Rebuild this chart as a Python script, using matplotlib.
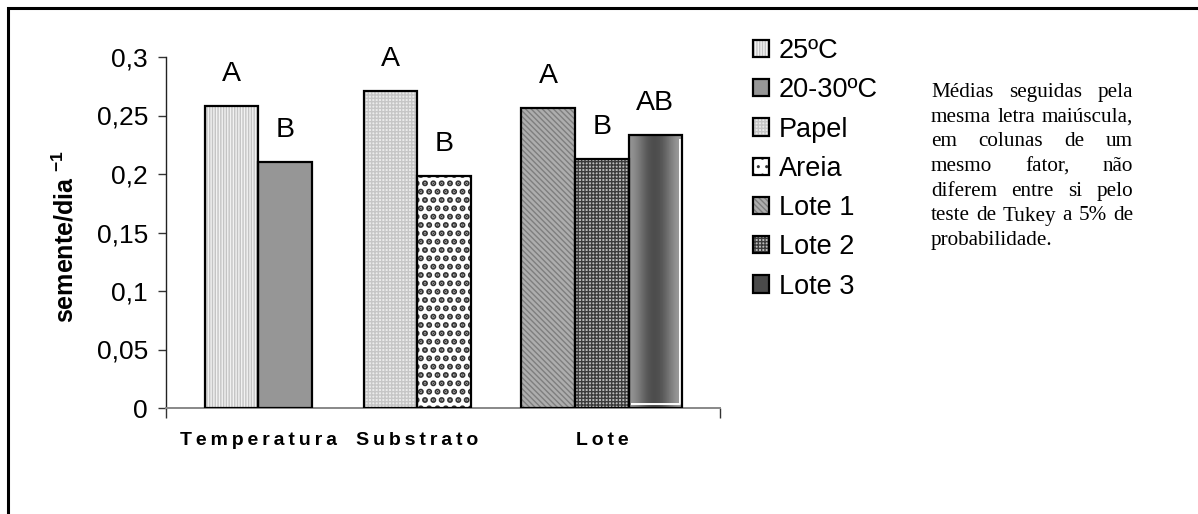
import numpy as np
import matplotlib
matplotlib.use("Agg")
from matplotlib import pyplot as plt
from matplotlib.patches import Rectangle, Patch
from matplotlib.legend_handler import HandlerTuple

plt.rcParams['font.family'] = ['Liberation Sans', 'DejaVu Sans']
plt.rcParams['mathtext.fontset'] = 'custom'
plt.rcParams['mathtext.rm'] = 'Liberation Sans'
plt.rcParams['mathtext.bf'] = 'Liberation Sans:bold'
plt.rcParams['hatch.linewidth'] = 1.0

# data
groups = ['Temperatura', 'Substrato', 'Lote']
series = ['25ºC', '20-30ºC', 'Papel', 'Areia', 'Lote 1', 'Lote 2', 'Lote 3']
series_group = [0, 0, 1, 1, 2, 2, 2]
values = [0.258, 0.210, 0.271, 0.198, 0.256, 0.213, 0.233]
letters = ['A', 'B', 'A', 'B', 'A', 'B', 'AB']
yticks = [0, 0.05, 0.1, 0.15, 0.2, 0.25, 0.3]
note_lines = ["Médias seguidas pela",
              "mesma letra maiúscula,",
              "em colunas de um",
              "mesmo fator, não",
              "diferem entre si pelo",
              "teste de Tukey a 5% de",
              "probabilidade."]

# bar looks: (face, hatch, hatch colour, hatch width)
styles = [('#f2f2f2', '||||||', '#c4c4c4', 1.0),
          ('#969696', None, '#969696', 1.0),
          ('#ececec', '+++++', '#c6c6c6', 1.0),
          ('#ffffff', '..', '#333333', 3.0),
          ('#adadad', '\\\\\\\\\\\\', '#7e7e7e', 1.0),
          ('#bdbdbd', '+++++', '#3c3c3c', 1.0),
          ('#555555', None, '#555555', 1.0)]

W, H = 1198, 514
fig = plt.figure(figsize=(W / 100, H / 100), dpi=100)
ax = fig.add_axes([166 / W, 1 - 408 / H, 554 / W, 351 / H])

centers = [0.50, 1.36, 2.36]
bw = 0.29
counts = [series_group.count(g) for g in range(len(groups))]
seen = [0] * len(groups)
handles = []
for i, v in enumerate(values):
    g = series_group[i]
    left = centers[g] - counts[g] * bw / 2 + seen[g] * bw
    seen[g] += 1
    face, hatch, hcol, hlw = styles[i]
    x = left + bw / 2
    if series[i] == 'Lote 3':
        grad = np.array([[0.58, 0.48, 0.36, 0.29, 0.31, 0.40, 0.53, 0.62]])
        ax.imshow(grad, cmap='gray', vmin=0, vmax=1, aspect='auto',
                  extent=[left, left + bw, 0, v], interpolation='bicubic', zorder=2)
        edge = ax.bar(x, v, bw, fill=False, edgecolor='black', linewidth=1.6, zorder=4)[0]
        dx, dy = 0.012, 0.003
        ax.plot([left + bw - dx, left + bw - dx, left + dx],
                [v - dy, dy, dy], color='white', lw=1.4, zorder=3,
                solid_capstyle='butt')
        handles.append((Patch(facecolor='#4a4a4a'), Patch(fill=False, edgecolor='black', lw=1.6)))
    else:
        with plt.rc_context({'hatch.linewidth': hlw}):
            fill = ax.bar(x, v, bw, color=face, hatch=hatch, edgecolor=hcol,
                          linewidth=0, zorder=2)[0]
            if hasattr(fill, 'set_hatch_linewidth'):
                fill.set_hatch_linewidth(hlw)
        edge = ax.bar(x, v, bw, fill=False, edgecolor='black', linewidth=1.6, zorder=4)[0]
        handles.append((fill, edge))
    ax.text(x, v + 0.0215, letters[i], ha='center', va='baseline', fontsize=20.5)

ax.set_xlim(0, 3)
ax.set_ylim(0, 0.3)
ax.set_yticks(yticks)
ax.set_yticklabels([('%g' % t).replace('.', ',') for t in yticks], fontsize=19)
ax.tick_params(axis='y', direction='out', length=6, width=1, color='#333333', pad=7)

thin = '\u2009'
ax.set_xticks(centers)
ax.set_xticklabels([thin.join(g) for g in groups], fontsize=14, fontweight='bold')
ax.tick_params(axis='x', length=0, pad=17.5)
ax.set_xticks([0, 3], minor=True)
ax.tick_params(axis='x', which='minor', direction='out', length=7, width=1, color='#333333')

for s in ['top', 'right']:
    ax.spines[s].set_visible(False)
ax.spines['left'].set_color('#222222')
ax.spines['bottom'].set_color('#888888')
ax.spines['left'].set_linewidth(1)
ax.spines['bottom'].set_linewidth(1.4)

fig.text(65 / W, 1 - 236 / H, r'semente/dia $^{\mathbf{-1}}$', rotation=90,
         ha='center', va='center', fontsize=18, fontweight='bold')

leg = ax.legend(handles, series, handler_map={tuple: HandlerTuple(ndivide=1)},
                loc='upper left', bbox_to_anchor=(753 / W, 1 - 38 / H),
                bbox_transform=fig.transFigure, frameon=False, fontsize=19.5,
                handlelength=0.6, handleheight=0.6, handletextpad=0.35,
                labelspacing=0.49, borderpad=0, borderaxespad=0)

# justified note on the right
renderer = fig.canvas.get_renderer()
x0, x1 = 931, 1133
base = 97
for k, line in enumerate(note_lines):
    y = 1 - (base + k * 24.7) / H
    words = line.split(' ')
    if k == len(note_lines) - 1:
        fig.text(x0 / W, y, line, family='Liberation Serif', fontsize=15.2, va='baseline')
        continue
    objs = [fig.text(0, y, w, family='Liberation Serif', fontsize=15.2, va='baseline') for w in words]
    widths = [o.get_window_extent(renderer).width for o in objs]
    gap = (x1 - x0 - sum(widths)) / (len(words) - 1)
    pos = x0
    for o, wd in zip(objs, widths):
        o.set_x(pos / W)
        pos += wd + gap

# outer frame, cut by the image edges on right and bottom
fig.add_artist(Rectangle((8 / W, -0.2), 1.2, 1.2 - 8 / H, transform=fig.transFigure,
                         fill=False, edgecolor='black', linewidth=2.2))

fig.savefig('out.png', dpi=100)
